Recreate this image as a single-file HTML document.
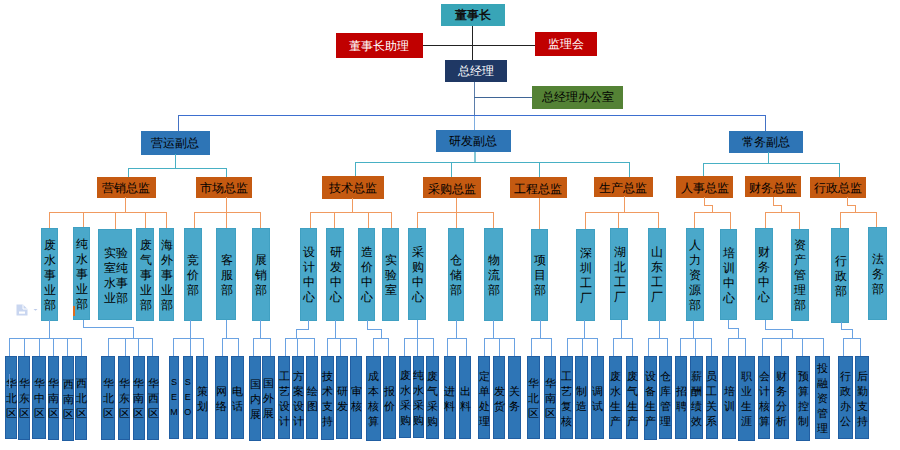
<!DOCTYPE html>
<html><head><meta charset="utf-8"><style>
html,body{margin:0;padding:0;background:#fff;width:900px;height:450px;overflow:hidden}
body{position:relative;font-family:"Liberation Sans",sans-serif}
.b{position:absolute;display:flex;align-items:center;justify-content:center;text-align:center;white-space:nowrap;box-sizing:border-box;line-height:1}
.l{position:absolute}
</style></head><body>
<div class="l" style="left:471.9px;top:26px;width:1.2px;height:34px;background:#222"></div>
<div class="l" style="left:422.45px;top:44.7px;width:113.1px;height:1.1px;background:#222"></div>
<div class="l" style="left:473.5px;top:81.5px;width:1.5px;height:33.5px;background:#5B7DAA"></div>
<div class="l" style="left:473.5px;top:115px;width:1.5px;height:15.25px;background:#7EADE0"></div>
<div class="l" style="left:473.7px;top:96.95px;width:59.35px;height:1.1px;background:#3F6596"></div>
<div class="l" style="left:177.75px;top:114.75px;width:588.25px;height:1.5px;background:#3D6FCF"></div>
<div class="l" style="left:178px;top:115px;width:1px;height:17px;background:#4472C4"></div>
<div class="l" style="left:765px;top:115px;width:1px;height:18px;background:#4472C4"></div>
<div class="b" style="left:441px;top:4px;width:64px;height:22px;background:#38A5B7;color:#111;font-size:12px;font-weight:bold">董事长</div>
<div class="b" style="left:336px;top:33.25px;width:87px;height:24.5px;background:#C00000;color:#fff;font-size:12px;"><span style="transform:translate(-1px,0px)">董事长助理</span></div>
<div class="b" style="left:535px;top:32px;width:62px;height:24px;background:#C00000;color:#fff;font-size:12px;">监理会</div>
<div class="b" style="left:444.5px;top:60px;width:62.5px;height:21.5px;background:#1F3864;color:#fff;font-size:12px;">总经理</div>
<div class="b" style="left:532.25px;top:86px;width:91.0px;height:22.5px;background:#548235;color:#000;font-size:12px;font-weight:500">总经理办公室</div>
<div class="b" style="left:141px;top:131px;width:68.5px;height:23.75px;background:#2E75B6;color:#000;font-size:12px;font-weight:500">营运副总</div>
<div class="b" style="left:435.75px;top:130.25px;width:74.75px;height:21.5px;background:#2E75B6;color:#000;font-size:12px;font-weight:500">研发副总</div>
<div class="b" style="left:728.75px;top:131.25px;width:73.75px;height:21.25px;background:#2E75B6;color:#000;font-size:12px;font-weight:500">常务副总</div>
<div class="l" style="left:175px;top:154px;width:1px;height:15px;background:#48B0C4"></div>
<div class="l" style="left:128px;top:168px;width:99px;height:1px;background:#48B0C4"></div>
<div class="l" style="left:128px;top:168px;width:1px;height:10px;background:#48B0C4"></div>
<div class="l" style="left:226px;top:168px;width:1px;height:10px;background:#48B0C4"></div>
<div class="l" style="left:474px;top:151.75px;width:2px;height:10.5px;background:#86C8D6"></div>
<div class="l" style="left:355px;top:162px;width:275px;height:1px;background:#48B0C4"></div>
<div class="l" style="left:355px;top:162px;width:1px;height:16px;background:#48B0C4"></div>
<div class="l" style="left:451px;top:162px;width:1px;height:16px;background:#48B0C4"></div>
<div class="l" style="left:539px;top:162px;width:1px;height:16px;background:#48B0C4"></div>
<div class="l" style="left:629px;top:162px;width:1px;height:16px;background:#48B0C4"></div>
<div class="l" style="left:768px;top:152px;width:1px;height:12px;background:#48B0C4"></div>
<div class="l" style="left:703px;top:163px;width:137px;height:1px;background:#48B0C4"></div>
<div class="l" style="left:703px;top:163px;width:1px;height:15px;background:#48B0C4"></div>
<div class="l" style="left:839px;top:163px;width:1px;height:15px;background:#48B0C4"></div>
<div class="b" style="left:96.75px;top:177px;width:59.0px;height:20.75px;background:#C55A11;color:#000;font-size:12px;font-weight:500"><span style="transform:translate(0px,0.5px)">营销总监</span></div>
<div class="b" style="left:195.75px;top:177px;width:56.25px;height:20.75px;background:#C55A11;color:#000;font-size:12px;font-weight:500"><span style="transform:translate(0px,0.5px)">市场总监</span></div>
<div class="b" style="left:322px;top:176.25px;width:61.75px;height:22.25px;background:#C55A11;color:#000;font-size:12px;font-weight:500"><span style="transform:translate(0px,0.5px)">技术总监</span></div>
<div class="b" style="left:423.25px;top:177px;width:57.25px;height:21.25px;background:#C55A11;color:#000;font-size:12px;font-weight:500"><span style="transform:translate(0px,0.5px)">采购总监</span></div>
<div class="b" style="left:510px;top:177px;width:56.75px;height:21.25px;background:#C55A11;color:#000;font-size:12px;font-weight:500"><span style="transform:translate(0px,0.5px)">工程总监</span></div>
<div class="b" style="left:594.25px;top:177px;width:58.25px;height:19.75px;background:#C55A11;color:#000;font-size:12px;font-weight:500"><span style="transform:translate(0px,0.5px)">生产总监</span></div>
<div class="b" style="left:676.25px;top:176.25px;width:57.0px;height:21.25px;background:#C55A11;color:#000;font-size:12px;font-weight:500"><span style="transform:translate(0px,0.5px)">人事总监</span></div>
<div class="b" style="left:745px;top:176.25px;width:55.75px;height:20.75px;background:#C55A11;color:#000;font-size:12px;font-weight:500"><span style="transform:translate(0px,0.5px)">财务总监</span></div>
<div class="b" style="left:809.5px;top:177px;width:56.75px;height:20.5px;background:#C55A11;color:#000;font-size:12px;font-weight:500"><span style="transform:translate(0px,0.5px)">行政总监</span></div>
<div class="l" style="left:125px;top:197px;width:1px;height:16px;background:#F09A60"></div>
<div class="l" style="left:49px;top:212px;width:118px;height:1px;background:#F09A60"></div>
<div class="l" style="left:49px;top:212px;width:1px;height:17px;background:#F09A60"></div>
<div class="l" style="left:83px;top:212px;width:1px;height:17px;background:#F09A60"></div>
<div class="l" style="left:115px;top:212px;width:1px;height:17px;background:#F09A60"></div>
<div class="l" style="left:145px;top:212px;width:1px;height:17px;background:#F09A60"></div>
<div class="l" style="left:166px;top:212px;width:1px;height:17px;background:#F09A60"></div>
<div class="l" style="left:226px;top:197px;width:1px;height:16px;background:#F09A60"></div>
<div class="l" style="left:194px;top:212px;width:67px;height:1px;background:#F09A60"></div>
<div class="l" style="left:194px;top:212px;width:1px;height:17px;background:#F09A60"></div>
<div class="l" style="left:226px;top:212px;width:1px;height:17px;background:#F09A60"></div>
<div class="l" style="left:260px;top:212px;width:1px;height:17px;background:#F09A60"></div>
<div class="l" style="left:352px;top:198px;width:1px;height:15px;background:#F09A60"></div>
<div class="l" style="left:310px;top:212px;width:82px;height:1px;background:#F09A60"></div>
<div class="l" style="left:310px;top:212px;width:1px;height:17px;background:#F09A60"></div>
<div class="l" style="left:334px;top:212px;width:1px;height:17px;background:#F09A60"></div>
<div class="l" style="left:368px;top:212px;width:1px;height:17px;background:#F09A60"></div>
<div class="l" style="left:391px;top:212px;width:1px;height:17px;background:#F09A60"></div>
<div class="l" style="left:456px;top:198px;width:1px;height:15px;background:#F09A60"></div>
<div class="l" style="left:417px;top:212px;width:77px;height:1px;background:#F09A60"></div>
<div class="l" style="left:417px;top:212px;width:1px;height:17px;background:#F09A60"></div>
<div class="l" style="left:456px;top:212px;width:1px;height:17px;background:#F09A60"></div>
<div class="l" style="left:493px;top:212px;width:1px;height:17px;background:#F09A60"></div>
<div class="l" style="left:539px;top:198px;width:1px;height:31px;background:#F09A60"></div>
<div class="l" style="left:624px;top:196px;width:1px;height:17px;background:#F09A60"></div>
<div class="l" style="left:585px;top:212px;width:74px;height:1px;background:#F09A60"></div>
<div class="l" style="left:585px;top:212px;width:1px;height:17px;background:#F09A60"></div>
<div class="l" style="left:618px;top:212px;width:1px;height:17px;background:#F09A60"></div>
<div class="l" style="left:658px;top:212px;width:1px;height:17px;background:#F09A60"></div>
<div class="l" style="left:704px;top:197px;width:1px;height:9px;background:#F09A60"></div>
<div class="l" style="left:704px;top:205px;width:9px;height:1px;background:#F09A60"></div>
<div class="l" style="left:712px;top:205px;width:1px;height:8px;background:#F09A60"></div>
<div class="l" style="left:694px;top:212px;width:37px;height:1px;background:#F09A60"></div>
<div class="l" style="left:694px;top:212px;width:1px;height:17px;background:#F09A60"></div>
<div class="l" style="left:730px;top:212px;width:1px;height:17px;background:#F09A60"></div>
<div class="l" style="left:773px;top:197px;width:1px;height:9px;background:#F09A60"></div>
<div class="l" style="left:773px;top:205px;width:9px;height:1px;background:#F09A60"></div>
<div class="l" style="left:781px;top:205px;width:1px;height:8px;background:#F09A60"></div>
<div class="l" style="left:765px;top:212px;width:35px;height:1px;background:#F09A60"></div>
<div class="l" style="left:765px;top:212px;width:1px;height:17px;background:#F09A60"></div>
<div class="l" style="left:799px;top:212px;width:1px;height:17px;background:#F09A60"></div>
<div class="l" style="left:847px;top:197px;width:1px;height:9px;background:#F09A60"></div>
<div class="l" style="left:847px;top:205px;width:9px;height:1px;background:#F09A60"></div>
<div class="l" style="left:855px;top:205px;width:1px;height:8px;background:#F09A60"></div>
<div class="l" style="left:840px;top:212px;width:37px;height:1px;background:#F09A60"></div>
<div class="l" style="left:840px;top:212px;width:1px;height:17px;background:#F09A60"></div>
<div class="l" style="left:876px;top:212px;width:1px;height:17px;background:#F09A60"></div>
<div class="b" style="left:40.75px;top:227.75px;width:17.5px;height:93.0px;background:#4AA8CA;color:#000;font-size:12px;font-weight:500;line-height:15px;box-shadow:inset 0 0 0 1px #40A0C2"><span style="transform:translate(0.5px,0.75px)">废<br>水<br>事<br>业<br>部</span></div>
<div class="b" style="left:73.25px;top:227px;width:16.75px;height:93.25px;background:#4AA8CA;color:#000;font-size:12px;font-weight:500;line-height:15px;box-shadow:inset 0 0 0 1px #40A0C2"><span style="transform:translate(0.5px,0.75px)">纯<br>水<br>事<br>业<br>部</span></div>
<div class="b" style="left:98.25px;top:228.75px;width:33.5px;height:91.5px;background:#4AA8CA;color:#000;font-size:12px;font-weight:500;line-height:15px;box-shadow:inset 0 0 0 1px #40A0C2"><span style="transform:translate(0.5px,0.75px)">实验<br>室纯<br>水事<br>业部</span></div>
<div class="b" style="left:136.25px;top:227.75px;width:17.5px;height:92.75px;background:#4AA8CA;color:#000;font-size:12px;font-weight:500;line-height:15px;box-shadow:inset 0 0 0 1px #40A0C2"><span style="transform:translate(0.5px,0.75px)">废<br>气<br>事<br>业<br>部</span></div>
<div class="b" style="left:158.75px;top:227.75px;width:15.5px;height:92.75px;background:#4AA8CA;color:#000;font-size:12px;font-weight:500;line-height:15px;box-shadow:inset 0 0 0 1px #40A0C2"><span style="transform:translate(0.5px,0.75px)">海<br>外<br>事<br>业<br>部</span></div>
<div class="b" style="left:183.5px;top:227.75px;width:18.5px;height:92.75px;background:#4AA8CA;color:#000;font-size:12px;font-weight:500;line-height:15px;box-shadow:inset 0 0 0 1px #40A0C2"><span style="transform:translate(0.5px,0.75px)">竞<br>价<br>部</span></div>
<div class="b" style="left:216.25px;top:227.75px;width:19.5px;height:92.5px;background:#4AA8CA;color:#000;font-size:12px;font-weight:500;line-height:15px;box-shadow:inset 0 0 0 1px #40A0C2"><span style="transform:translate(0.5px,0.75px)">客<br>服<br>部</span></div>
<div class="b" style="left:251.75px;top:227.75px;width:18.25px;height:92.75px;background:#4AA8CA;color:#000;font-size:12px;font-weight:500;line-height:15px;box-shadow:inset 0 0 0 1px #40A0C2"><span style="transform:translate(0.5px,0.75px)">展<br>销<br>部</span></div>
<div class="b" style="left:300px;top:227.75px;width:16.75px;height:92.75px;background:#4AA8CA;color:#000;font-size:12px;font-weight:500;line-height:15px;box-shadow:inset 0 0 0 1px #40A0C2"><span style="transform:translate(0.5px,0.75px)">设<br>计<br>中<br>心</span></div>
<div class="b" style="left:325.75px;top:227.75px;width:18.5px;height:92.75px;background:#4AA8CA;color:#000;font-size:12px;font-weight:500;line-height:15px;box-shadow:inset 0 0 0 1px #40A0C2"><span style="transform:translate(0.5px,0.75px)">研<br>发<br>中<br>心</span></div>
<div class="b" style="left:357.5px;top:227.75px;width:17.5px;height:93.25px;background:#4AA8CA;color:#000;font-size:12px;font-weight:500;line-height:15px;box-shadow:inset 0 0 0 1px #40A0C2"><span style="transform:translate(0.5px,0.75px)">造<br>价<br>中<br>心</span></div>
<div class="b" style="left:381.75px;top:227.75px;width:17.5px;height:92.75px;background:#4AA8CA;color:#000;font-size:12px;font-weight:500;line-height:15px;box-shadow:inset 0 0 0 1px #40A0C2"><span style="transform:translate(0.5px,0.75px)">实<br>验<br>室</span></div>
<div class="b" style="left:408.25px;top:228px;width:17.5px;height:92.25px;background:#4AA8CA;color:#000;font-size:12px;font-weight:500;line-height:15px;box-shadow:inset 0 0 0 1px #40A0C2"><span style="transform:translate(0.5px,0.75px)">采<br>购<br>中<br>心</span></div>
<div class="b" style="left:448px;top:228px;width:15.75px;height:92.75px;background:#4AA8CA;color:#000;font-size:12px;font-weight:500;line-height:15px;box-shadow:inset 0 0 0 1px #40A0C2"><span style="transform:translate(0.5px,0.75px)">仓<br>储<br>部</span></div>
<div class="b" style="left:484.25px;top:228px;width:18.25px;height:92.75px;background:#4AA8CA;color:#000;font-size:12px;font-weight:500;line-height:15px;box-shadow:inset 0 0 0 1px #40A0C2"><span style="transform:translate(0.5px,0.75px)">物<br>流<br>部</span></div>
<div class="b" style="left:530.75px;top:228.75px;width:17.5px;height:92.25px;background:#4AA8CA;color:#000;font-size:12px;font-weight:500;line-height:15px;box-shadow:inset 0 0 0 1px #40A0C2"><span style="transform:translate(0.5px,0.75px)">项<br>目<br>部</span></div>
<div class="b" style="left:575.5px;top:228.75px;width:19.5px;height:92.25px;background:#4AA8CA;color:#000;font-size:12px;font-weight:500;line-height:15px;box-shadow:inset 0 0 0 1px #40A0C2"><span style="transform:translate(0.5px,0.75px)">深<br>圳<br>工<br>厂</span></div>
<div class="b" style="left:610px;top:228px;width:18.25px;height:92.25px;background:#4AA8CA;color:#000;font-size:12px;font-weight:500;line-height:15px;box-shadow:inset 0 0 0 1px #40A0C2"><span style="transform:translate(0.5px,0.75px)">湖<br>北<br>工<br>厂</span></div>
<div class="b" style="left:648px;top:228px;width:17.5px;height:92.75px;background:#4AA8CA;color:#000;font-size:12px;font-weight:500;line-height:15px;box-shadow:inset 0 0 0 1px #40A0C2"><span style="transform:translate(0.5px,0.75px)">山<br>东<br>工<br>厂</span></div>
<div class="b" style="left:685.5px;top:228px;width:18.25px;height:92.75px;background:#4AA8CA;color:#000;font-size:12px;font-weight:500;line-height:15px;box-shadow:inset 0 0 0 1px #40A0C2"><span style="transform:translate(0.5px,0.75px)">人<br>力<br>资<br>源<br>部</span></div>
<div class="b" style="left:720px;top:228.75px;width:17px;height:91.5px;background:#4AA8CA;color:#000;font-size:12px;font-weight:500;line-height:15px;box-shadow:inset 0 0 0 1px #40A0C2"><span style="transform:translate(0.5px,0.75px)">培<br>训<br>中<br>心</span></div>
<div class="b" style="left:755px;top:228px;width:17.5px;height:92.25px;background:#4AA8CA;color:#000;font-size:12px;font-weight:500;line-height:15px;box-shadow:inset 0 0 0 1px #40A0C2"><span style="transform:translate(0.5px,0.75px)">财<br>务<br>中<br>心</span></div>
<div class="b" style="left:790.75px;top:228.75px;width:18.0px;height:92.0px;background:#4AA8CA;color:#000;font-size:12px;font-weight:500;line-height:15px;box-shadow:inset 0 0 0 1px #40A0C2"><span style="transform:translate(0.5px,0.75px)">资<br>产<br>管<br>理<br>部</span></div>
<div class="b" style="left:831.25px;top:228px;width:17.5px;height:94.5px;background:#4AA8CA;color:#000;font-size:12px;font-weight:500;line-height:15px;box-shadow:inset 0 0 0 1px #40A0C2"><span style="transform:translate(0.5px,0.75px)">行<br>政<br>部</span></div>
<div class="b" style="left:868.25px;top:227px;width:18.75px;height:93.25px;background:#4AA8CA;color:#000;font-size:12px;font-weight:500;line-height:15px;box-shadow:inset 0 0 0 1px #40A0C2"><span style="transform:translate(0.5px,0.75px)">法<br>务<br>部</span></div>
<div class="l" style="left:49px;top:320px;width:1px;height:19px;background:#6AA2E2"></div>
<div class="l" style="left:9px;top:338px;width:73px;height:1px;background:#6AA2E2"></div>
<div class="l" style="left:9px;top:338px;width:1px;height:19px;background:#6AA2E2"></div>
<div class="l" style="left:24px;top:338px;width:1px;height:19px;background:#6AA2E2"></div>
<div class="l" style="left:39px;top:338px;width:1px;height:19px;background:#6AA2E2"></div>
<div class="l" style="left:53px;top:338px;width:1px;height:19px;background:#6AA2E2"></div>
<div class="l" style="left:67px;top:338px;width:1px;height:19px;background:#6AA2E2"></div>
<div class="l" style="left:81px;top:338px;width:1px;height:19px;background:#6AA2E2"></div>
<div class="l" style="left:83px;top:320px;width:1px;height:8px;background:#6AA2E2"></div>
<div class="l" style="left:83px;top:327px;width:51px;height:1px;background:#6AA2E2"></div>
<div class="l" style="left:133px;top:327px;width:1px;height:12px;background:#6AA2E2"></div>
<div class="l" style="left:108px;top:338px;width:45px;height:1px;background:#6AA2E2"></div>
<div class="l" style="left:108px;top:338px;width:1px;height:19px;background:#6AA2E2"></div>
<div class="l" style="left:125px;top:338px;width:1px;height:19px;background:#6AA2E2"></div>
<div class="l" style="left:138px;top:338px;width:1px;height:19px;background:#6AA2E2"></div>
<div class="l" style="left:152px;top:338px;width:1px;height:19px;background:#6AA2E2"></div>
<div class="l" style="left:190px;top:320px;width:1px;height:19px;background:#6AA2E2"></div>
<div class="l" style="left:173px;top:338px;width:31px;height:1px;background:#6AA2E2"></div>
<div class="l" style="left:173px;top:338px;width:1px;height:19px;background:#6AA2E2"></div>
<div class="l" style="left:190px;top:338px;width:1px;height:19px;background:#6AA2E2"></div>
<div class="l" style="left:203px;top:338px;width:1px;height:19px;background:#6AA2E2"></div>
<div class="l" style="left:226px;top:320px;width:1px;height:19px;background:#6AA2E2"></div>
<div class="l" style="left:222px;top:338px;width:17px;height:1px;background:#6AA2E2"></div>
<div class="l" style="left:222px;top:338px;width:1px;height:19px;background:#6AA2E2"></div>
<div class="l" style="left:238px;top:338px;width:1px;height:19px;background:#6AA2E2"></div>
<div class="l" style="left:260px;top:320px;width:1px;height:19px;background:#6AA2E2"></div>
<div class="l" style="left:253px;top:338px;width:18px;height:1px;background:#6AA2E2"></div>
<div class="l" style="left:253px;top:338px;width:1px;height:19px;background:#6AA2E2"></div>
<div class="l" style="left:270px;top:338px;width:1px;height:19px;background:#6AA2E2"></div>
<div class="l" style="left:308px;top:320px;width:1px;height:10px;background:#6AA2E2"></div>
<div class="l" style="left:296px;top:329px;width:13px;height:1px;background:#6AA2E2"></div>
<div class="l" style="left:296px;top:329px;width:1px;height:10px;background:#6AA2E2"></div>
<div class="l" style="left:285px;top:338px;width:30px;height:1px;background:#6AA2E2"></div>
<div class="l" style="left:285px;top:338px;width:1px;height:19px;background:#6AA2E2"></div>
<div class="l" style="left:297px;top:338px;width:1px;height:19px;background:#6AA2E2"></div>
<div class="l" style="left:314px;top:338px;width:1px;height:19px;background:#6AA2E2"></div>
<div class="l" style="left:335px;top:320px;width:1px;height:19px;background:#6AA2E2"></div>
<div class="l" style="left:327px;top:338px;width:30px;height:1px;background:#6AA2E2"></div>
<div class="l" style="left:327px;top:338px;width:1px;height:19px;background:#6AA2E2"></div>
<div class="l" style="left:340px;top:338px;width:1px;height:19px;background:#6AA2E2"></div>
<div class="l" style="left:356px;top:338px;width:1px;height:19px;background:#6AA2E2"></div>
<div class="l" style="left:367px;top:320px;width:1px;height:10px;background:#6AA2E2"></div>
<div class="l" style="left:367px;top:329px;width:15px;height:1px;background:#6AA2E2"></div>
<div class="l" style="left:381px;top:329px;width:1px;height:10px;background:#6AA2E2"></div>
<div class="l" style="left:373px;top:338px;width:16px;height:1px;background:#6AA2E2"></div>
<div class="l" style="left:373px;top:338px;width:1px;height:19px;background:#6AA2E2"></div>
<div class="l" style="left:388px;top:338px;width:1px;height:19px;background:#6AA2E2"></div>
<div class="l" style="left:417px;top:320px;width:1px;height:19px;background:#6AA2E2"></div>
<div class="l" style="left:404px;top:338px;width:30px;height:1px;background:#6AA2E2"></div>
<div class="l" style="left:404px;top:338px;width:1px;height:19px;background:#6AA2E2"></div>
<div class="l" style="left:417px;top:338px;width:1px;height:19px;background:#6AA2E2"></div>
<div class="l" style="left:433px;top:338px;width:1px;height:19px;background:#6AA2E2"></div>
<div class="l" style="left:456px;top:320px;width:1px;height:19px;background:#6AA2E2"></div>
<div class="l" style="left:447px;top:338px;width:20px;height:1px;background:#6AA2E2"></div>
<div class="l" style="left:447px;top:338px;width:1px;height:19px;background:#6AA2E2"></div>
<div class="l" style="left:466px;top:338px;width:1px;height:19px;background:#6AA2E2"></div>
<div class="l" style="left:493px;top:320px;width:1px;height:19px;background:#6AA2E2"></div>
<div class="l" style="left:484px;top:338px;width:31px;height:1px;background:#6AA2E2"></div>
<div class="l" style="left:484px;top:338px;width:1px;height:19px;background:#6AA2E2"></div>
<div class="l" style="left:499px;top:338px;width:1px;height:19px;background:#6AA2E2"></div>
<div class="l" style="left:514px;top:338px;width:1px;height:19px;background:#6AA2E2"></div>
<div class="l" style="left:540px;top:320px;width:1px;height:19px;background:#6AA2E2"></div>
<div class="l" style="left:531px;top:338px;width:21px;height:1px;background:#6AA2E2"></div>
<div class="l" style="left:531px;top:338px;width:1px;height:19px;background:#6AA2E2"></div>
<div class="l" style="left:551px;top:338px;width:1px;height:19px;background:#6AA2E2"></div>
<div class="l" style="left:584px;top:320px;width:1px;height:19px;background:#6AA2E2"></div>
<div class="l" style="left:567px;top:338px;width:31px;height:1px;background:#6AA2E2"></div>
<div class="l" style="left:567px;top:338px;width:1px;height:19px;background:#6AA2E2"></div>
<div class="l" style="left:582px;top:338px;width:1px;height:19px;background:#6AA2E2"></div>
<div class="l" style="left:597px;top:338px;width:1px;height:19px;background:#6AA2E2"></div>
<div class="l" style="left:621px;top:320px;width:1px;height:19px;background:#6AA2E2"></div>
<div class="l" style="left:613px;top:338px;width:20px;height:1px;background:#6AA2E2"></div>
<div class="l" style="left:613px;top:338px;width:1px;height:19px;background:#6AA2E2"></div>
<div class="l" style="left:632px;top:338px;width:1px;height:19px;background:#6AA2E2"></div>
<div class="l" style="left:659px;top:320px;width:1px;height:19px;background:#6AA2E2"></div>
<div class="l" style="left:648px;top:338px;width:20px;height:1px;background:#6AA2E2"></div>
<div class="l" style="left:648px;top:338px;width:1px;height:19px;background:#6AA2E2"></div>
<div class="l" style="left:667px;top:338px;width:1px;height:19px;background:#6AA2E2"></div>
<div class="l" style="left:693px;top:320px;width:1px;height:19px;background:#6AA2E2"></div>
<div class="l" style="left:680px;top:338px;width:32px;height:1px;background:#6AA2E2"></div>
<div class="l" style="left:680px;top:338px;width:1px;height:19px;background:#6AA2E2"></div>
<div class="l" style="left:695px;top:338px;width:1px;height:19px;background:#6AA2E2"></div>
<div class="l" style="left:711px;top:338px;width:1px;height:19px;background:#6AA2E2"></div>
<div class="l" style="left:728px;top:320px;width:1px;height:9px;background:#6AA2E2"></div>
<div class="l" style="left:728px;top:328px;width:11px;height:1px;background:#6AA2E2"></div>
<div class="l" style="left:738px;top:328px;width:1px;height:11px;background:#6AA2E2"></div>
<div class="l" style="left:728px;top:338px;width:18px;height:1px;background:#6AA2E2"></div>
<div class="l" style="left:728px;top:338px;width:1px;height:19px;background:#6AA2E2"></div>
<div class="l" style="left:745px;top:338px;width:1px;height:19px;background:#6AA2E2"></div>
<div class="l" style="left:765px;top:320px;width:1px;height:10px;background:#6AA2E2"></div>
<div class="l" style="left:765px;top:329px;width:28px;height:1px;background:#6AA2E2"></div>
<div class="l" style="left:792px;top:329px;width:1px;height:10px;background:#6AA2E2"></div>
<div class="l" style="left:762px;top:338px;width:62px;height:1px;background:#6AA2E2"></div>
<div class="l" style="left:762px;top:338px;width:1px;height:19px;background:#6AA2E2"></div>
<div class="l" style="left:781px;top:338px;width:1px;height:19px;background:#6AA2E2"></div>
<div class="l" style="left:802px;top:338px;width:1px;height:19px;background:#6AA2E2"></div>
<div class="l" style="left:823px;top:338px;width:1px;height:19px;background:#6AA2E2"></div>
<div class="l" style="left:841px;top:322px;width:1px;height:8px;background:#6AA2E2"></div>
<div class="l" style="left:841px;top:329px;width:12px;height:1px;background:#6AA2E2"></div>
<div class="l" style="left:852px;top:329px;width:1px;height:10px;background:#6AA2E2"></div>
<div class="l" style="left:843px;top:338px;width:18px;height:1px;background:#6AA2E2"></div>
<div class="l" style="left:843px;top:338px;width:1px;height:19px;background:#6AA2E2"></div>
<div class="l" style="left:860px;top:338px;width:1px;height:19px;background:#6AA2E2"></div>
<div class="b" style="left:5px;top:356px;width:11.75px;height:82.75px;background:#2E75B6;color:#000;font-size:10.5px;font-weight:500;line-height:15px;box-shadow:inset 0 0 0 1px #215EA2"><span style="transform:translate(0.25px,1px)">华<br>北<br>区</span></div>
<div class="b" style="left:18px;top:356px;width:12px;height:83.75px;background:#2E75B6;color:#000;font-size:10.5px;font-weight:500;line-height:15px;box-shadow:inset 0 0 0 1px #215EA2"><span style="transform:translate(0.25px,1px)">华<br>东<br>区</span></div>
<div class="b" style="left:32px;top:356px;width:13.5px;height:82.75px;background:#2E75B6;color:#000;font-size:10.5px;font-weight:500;line-height:15px;box-shadow:inset 0 0 0 1px #215EA2"><span style="transform:translate(0.25px,1px)">华<br>中<br>区</span></div>
<div class="b" style="left:47.5px;top:356px;width:11.75px;height:83.75px;background:#2E75B6;color:#000;font-size:10.5px;font-weight:500;line-height:15px;box-shadow:inset 0 0 0 1px #215EA2"><span style="transform:translate(0.25px,1px)">华<br>南<br>区</span></div>
<div class="b" style="left:62px;top:356px;width:11.75px;height:84.5px;background:#2E75B6;color:#000;font-size:10.5px;font-weight:500;line-height:15px;box-shadow:inset 0 0 0 1px #215EA2"><span style="transform:translate(0.25px,1px)">西<br>南<br>区</span></div>
<div class="b" style="left:75px;top:356px;width:11.75px;height:83.5px;background:#2E75B6;color:#000;font-size:10.5px;font-weight:500;line-height:15px;box-shadow:inset 0 0 0 1px #215EA2"><span style="transform:translate(0.25px,1px)">西<br>北<br>区</span></div>
<div class="b" style="left:101.25px;top:356px;width:13.75px;height:83.75px;background:#2E75B6;color:#000;font-size:10.5px;font-weight:500;line-height:15px;box-shadow:inset 0 0 0 1px #215EA2"><span style="transform:translate(0.25px,1px)">华<br>北<br>区</span></div>
<div class="b" style="left:118px;top:356px;width:12px;height:83.75px;background:#2E75B6;color:#000;font-size:10.5px;font-weight:500;line-height:15px;box-shadow:inset 0 0 0 1px #215EA2"><span style="transform:translate(0.25px,1px)">华<br>东<br>区</span></div>
<div class="b" style="left:132.5px;top:356px;width:12.0px;height:83.75px;background:#2E75B6;color:#000;font-size:10.5px;font-weight:500;line-height:15px;box-shadow:inset 0 0 0 1px #215EA2"><span style="transform:translate(0.25px,1px)">华<br>南<br>区</span></div>
<div class="b" style="left:147px;top:356px;width:12.25px;height:83.75px;background:#2E75B6;color:#000;font-size:10.5px;font-weight:500;line-height:15px;box-shadow:inset 0 0 0 1px #215EA2"><span style="transform:translate(0.25px,1px)">华<br>西<br>区</span></div>
<div class="b" style="left:169px;top:356px;width:10px;height:83.25px;background:#2E75B6;color:#000;font-size:9px;line-height:15px;box-shadow:inset 0 0 0 1px #215EA2">S<br>E<br>M</div>
<div class="b" style="left:182.75px;top:356px;width:10.0px;height:83.25px;background:#2E75B6;color:#000;font-size:9px;line-height:15px;box-shadow:inset 0 0 0 1px #215EA2">S<br>E<br>O</div>
<div class="b" style="left:196.25px;top:356px;width:12.0px;height:83.25px;background:#2E75B6;color:#000;font-size:10.5px;font-weight:500;line-height:15px;box-shadow:inset 0 0 0 1px #215EA2"><span style="transform:translate(0.25px,1px)">策<br>划</span></div>
<div class="b" style="left:214.5px;top:356px;width:13.25px;height:83.25px;background:#2E75B6;color:#000;font-size:10.5px;font-weight:500;line-height:15px;box-shadow:inset 0 0 0 1px #215EA2"><span style="transform:translate(0.25px,1px)">网<br>络</span></div>
<div class="b" style="left:231px;top:356px;width:13.25px;height:83.25px;background:#2E75B6;color:#000;font-size:10.5px;font-weight:500;line-height:15px;box-shadow:inset 0 0 0 1px #215EA2"><span style="transform:translate(0.25px,1px)">电<br>话</span></div>
<div class="b" style="left:248.75px;top:356px;width:12.0px;height:84.5px;background:#2E75B6;color:#000;font-size:10.5px;font-weight:500;line-height:15px;box-shadow:inset 0 0 0 1px #215EA2"><span style="transform:translate(0.25px,1px)">国<br>内<br>展</span></div>
<div class="b" style="left:262px;top:356px;width:12.5px;height:83.25px;background:#2E75B6;color:#000;font-size:10.5px;font-weight:500;line-height:15px;box-shadow:inset 0 0 0 1px #215EA2"><span style="transform:translate(0.25px,1px)">国<br>外<br>展</span></div>
<div class="b" style="left:278.25px;top:356px;width:11.75px;height:83.25px;background:#2E75B6;color:#000;font-size:10.5px;font-weight:500;line-height:15px;box-shadow:inset 0 0 0 1px #215EA2"><span style="transform:translate(0.25px,1px)">工<br>艺<br>设<br>计</span></div>
<div class="b" style="left:291.75px;top:356px;width:12.0px;height:83.25px;background:#2E75B6;color:#000;font-size:10.5px;font-weight:500;line-height:15px;box-shadow:inset 0 0 0 1px #215EA2"><span style="transform:translate(0.25px,1px)">方<br>案<br>设<br>计</span></div>
<div class="b" style="left:306.25px;top:356px;width:12.0px;height:83.25px;background:#2E75B6;color:#000;font-size:10.5px;font-weight:500;line-height:15px;box-shadow:inset 0 0 0 1px #215EA2"><span style="transform:translate(0.25px,1px)">绘<br>图</span></div>
<div class="b" style="left:321.25px;top:356px;width:12.5px;height:84px;background:#2E75B6;color:#000;font-size:10.5px;font-weight:500;line-height:15px;box-shadow:inset 0 0 0 1px #215EA2"><span style="transform:translate(0.25px,1px)">技<br>术<br>支<br>持</span></div>
<div class="b" style="left:336.25px;top:356px;width:11.25px;height:83.25px;background:#2E75B6;color:#000;font-size:10.5px;font-weight:500;line-height:15px;box-shadow:inset 0 0 0 1px #215EA2"><span style="transform:translate(0.25px,1px)">研<br>发</span></div>
<div class="b" style="left:350px;top:356px;width:11.75px;height:83.25px;background:#2E75B6;color:#000;font-size:10.5px;font-weight:500;line-height:15px;box-shadow:inset 0 0 0 1px #215EA2"><span style="transform:translate(0.25px,1px)">审<br>核</span></div>
<div class="b" style="left:365.5px;top:356px;width:15.0px;height:84.5px;background:#2E75B6;color:#000;font-size:10.5px;font-weight:500;line-height:15px;box-shadow:inset 0 0 0 1px #215EA2"><span style="transform:translate(0.25px,1px)">成<br>本<br>核<br>算</span></div>
<div class="b" style="left:383px;top:356px;width:12.75px;height:83.25px;background:#2E75B6;color:#000;font-size:10.5px;font-weight:500;line-height:15px;box-shadow:inset 0 0 0 1px #215EA2"><span style="transform:translate(0.25px,1px)">报<br>价</span></div>
<div class="b" style="left:399.25px;top:356px;width:11.5px;height:82px;background:#2E75B6;color:#000;font-size:10.5px;font-weight:500;line-height:15px;box-shadow:inset 0 0 0 1px #215EA2"><span style="transform:translate(0.25px,1px)">废<br>水<br>采<br>购</span></div>
<div class="b" style="left:412.5px;top:356px;width:11.5px;height:82px;background:#2E75B6;color:#000;font-size:10.5px;font-weight:500;line-height:15px;box-shadow:inset 0 0 0 1px #215EA2"><span style="transform:translate(0.25px,1px)">纯<br>水<br>采<br>购</span></div>
<div class="b" style="left:426.25px;top:356px;width:12.5px;height:83.25px;background:#2E75B6;color:#000;font-size:10.5px;font-weight:500;line-height:15px;box-shadow:inset 0 0 0 1px #215EA2"><span style="transform:translate(0.25px,1px)">废<br>气<br>采<br>购</span></div>
<div class="b" style="left:443.75px;top:356px;width:11.75px;height:83.25px;background:#2E75B6;color:#000;font-size:10.5px;font-weight:500;line-height:15px;box-shadow:inset 0 0 0 1px #215EA2"><span style="transform:translate(0.25px,1px)">进<br>料</span></div>
<div class="b" style="left:459.25px;top:356px;width:11.5px;height:83.25px;background:#2E75B6;color:#000;font-size:10.5px;font-weight:500;line-height:15px;box-shadow:inset 0 0 0 1px #215EA2"><span style="transform:translate(0.25px,1px)">出<br>料</span></div>
<div class="b" style="left:478px;top:356px;width:12px;height:83.25px;background:#2E75B6;color:#000;font-size:10.5px;font-weight:500;line-height:15px;box-shadow:inset 0 0 0 1px #215EA2"><span style="transform:translate(0.25px,1px)">定<br>单<br>处<br>理</span></div>
<div class="b" style="left:493px;top:356px;width:11.5px;height:83.25px;background:#2E75B6;color:#000;font-size:10.5px;font-weight:500;line-height:15px;box-shadow:inset 0 0 0 1px #215EA2"><span style="transform:translate(0.25px,1px)">发<br>货</span></div>
<div class="b" style="left:508.25px;top:356px;width:12.5px;height:83.25px;background:#2E75B6;color:#000;font-size:10.5px;font-weight:500;line-height:15px;box-shadow:inset 0 0 0 1px #215EA2"><span style="transform:translate(0.25px,1px)">关<br>务</span></div>
<div class="b" style="left:527px;top:356px;width:13px;height:83.25px;background:#2E75B6;color:#000;font-size:10.5px;font-weight:500;line-height:15px;box-shadow:inset 0 0 0 1px #215EA2"><span style="transform:translate(0.25px,1px)">华<br>北<br>区</span></div>
<div class="b" style="left:544.25px;top:356px;width:11.5px;height:83.25px;background:#2E75B6;color:#000;font-size:10.5px;font-weight:500;line-height:15px;box-shadow:inset 0 0 0 1px #215EA2"><span style="transform:translate(0.25px,1px)">华<br>南<br>区</span></div>
<div class="b" style="left:560px;top:356px;width:12.5px;height:83.25px;background:#2E75B6;color:#000;font-size:10.5px;font-weight:500;line-height:15px;box-shadow:inset 0 0 0 1px #215EA2"><span style="transform:translate(0.25px,1px)">工<br>艺<br>复<br>核</span></div>
<div class="b" style="left:575px;top:356px;width:12.5px;height:83.25px;background:#2E75B6;color:#000;font-size:10.5px;font-weight:500;line-height:15px;box-shadow:inset 0 0 0 1px #215EA2"><span style="transform:translate(0.25px,1px)">制<br>造</span></div>
<div class="b" style="left:591px;top:356px;width:12.75px;height:83.25px;background:#2E75B6;color:#000;font-size:10.5px;font-weight:500;line-height:15px;box-shadow:inset 0 0 0 1px #215EA2"><span style="transform:translate(0.25px,1px)">调<br>试</span></div>
<div class="b" style="left:609.25px;top:356px;width:12.5px;height:83.25px;background:#2E75B6;color:#000;font-size:10.5px;font-weight:500;line-height:15px;box-shadow:inset 0 0 0 1px #215EA2"><span style="transform:translate(0.25px,1px)">废<br>水<br>生<br>产</span></div>
<div class="b" style="left:625.5px;top:356px;width:12.75px;height:83.25px;background:#2E75B6;color:#000;font-size:10.5px;font-weight:500;line-height:15px;box-shadow:inset 0 0 0 1px #215EA2"><span style="transform:translate(0.25px,1px)">废<br>气<br>生<br>产</span></div>
<div class="b" style="left:644.25px;top:356px;width:12.5px;height:84px;background:#2E75B6;color:#000;font-size:10.5px;font-weight:500;line-height:15px;box-shadow:inset 0 0 0 1px #215EA2"><span style="transform:translate(0.25px,1px)">设<br>备<br>生<br>产</span></div>
<div class="b" style="left:659.25px;top:356px;width:12.5px;height:83.25px;background:#2E75B6;color:#000;font-size:10.5px;font-weight:500;line-height:15px;box-shadow:inset 0 0 0 1px #215EA2"><span style="transform:translate(0.25px,1px)">仓<br>库<br>管<br>理</span></div>
<div class="b" style="left:674.5px;top:356px;width:12.5px;height:83.25px;background:#2E75B6;color:#000;font-size:10.5px;font-weight:500;line-height:15px;box-shadow:inset 0 0 0 1px #215EA2"><span style="transform:translate(0.25px,1px)">招<br>聘</span></div>
<div class="b" style="left:689.5px;top:356px;width:13.0px;height:83.25px;background:#2E75B6;color:#000;font-size:10.5px;font-weight:500;line-height:15px;box-shadow:inset 0 0 0 1px #215EA2"><span style="transform:translate(0.25px,1px)">薪<br>酬<br>绩<br>效</span></div>
<div class="b" style="left:705.5px;top:356px;width:12.0px;height:83.25px;background:#2E75B6;color:#000;font-size:10.5px;font-weight:500;line-height:15px;box-shadow:inset 0 0 0 1px #215EA2"><span style="transform:translate(0.25px,1px)">员<br>工<br>关<br>系</span></div>
<div class="b" style="left:722px;top:356px;width:13.75px;height:83.25px;background:#2E75B6;color:#000;font-size:10.5px;font-weight:500;line-height:15px;box-shadow:inset 0 0 0 1px #215EA2"><span style="transform:translate(0.25px,1px)">培<br>训</span></div>
<div class="b" style="left:738.25px;top:356px;width:16.75px;height:84.5px;background:#2E75B6;color:#000;font-size:10.5px;font-weight:500;line-height:15px;box-shadow:inset 0 0 0 1px #215EA2"><span style="transform:translate(0.25px,1px)">职<br>业<br>生<br>涯</span></div>
<div class="b" style="left:758.25px;top:356px;width:11.25px;height:83.25px;background:#2E75B6;color:#000;font-size:10.5px;font-weight:500;line-height:15px;box-shadow:inset 0 0 0 1px #215EA2"><span style="transform:translate(0.25px,1px)">会<br>计<br>核<br>算</span></div>
<div class="b" style="left:774.25px;top:356px;width:14.5px;height:83.25px;background:#2E75B6;color:#000;font-size:10.5px;font-weight:500;line-height:15px;box-shadow:inset 0 0 0 1px #215EA2"><span style="transform:translate(0.25px,1px)">财<br>务<br>分<br>析</span></div>
<div class="b" style="left:796.25px;top:356px;width:13.25px;height:84.5px;background:#2E75B6;color:#000;font-size:10.5px;font-weight:500;line-height:15px;box-shadow:inset 0 0 0 1px #215EA2"><span style="transform:translate(0.25px,1px)">预<br>算<br>控<br>制</span></div>
<div class="b" style="left:815px;top:356px;width:15px;height:83.25px;background:#2E75B6;color:#000;font-size:10.5px;font-weight:500;line-height:15px;box-shadow:inset 0 0 0 1px #215EA2"><span style="transform:translate(0.25px,1px)">投<br>融<br>资<br>管<br>理</span></div>
<div class="b" style="left:838.25px;top:356px;width:14.25px;height:83.25px;background:#2E75B6;color:#000;font-size:10.5px;font-weight:500;line-height:15px;box-shadow:inset 0 0 0 1px #215EA2"><span style="transform:translate(0.25px,1px)">行<br>政<br>办<br>公</span></div>
<div class="b" style="left:855px;top:356px;width:13.75px;height:83.25px;background:#2E75B6;color:#000;font-size:10.5px;font-weight:500;line-height:15px;box-shadow:inset 0 0 0 1px #215EA2"><span style="transform:translate(0.25px,1px)">后<br>勤<br>支<br>持</span></div>
<svg class="l" style="left:14px;top:302px" width="28" height="16" viewBox="0 0 28 16"><path d="M2.5 2.5 H9 L13.5 7 V13.5 H2.5 Z" fill="#C9D6F0"/><path d="M9 2.5 V7 H13.5" fill="none" stroke="#fff" stroke-width="1"/><rect x="5" y="9.5" width="6" height="2.2" fill="#fff"/><path d="M19.5 7 H23.5 L21.5 8.8 Z" fill="#BCCBEA"/></svg>
<div class="l" style="left:73px;top:305.5px;width:2px;height:10.5px;background:#E06C1E"></div>
<div class="l" style="left:9px;top:374px;width:1px;height:14px;background:#6A9AD6"></div>
</body></html>
